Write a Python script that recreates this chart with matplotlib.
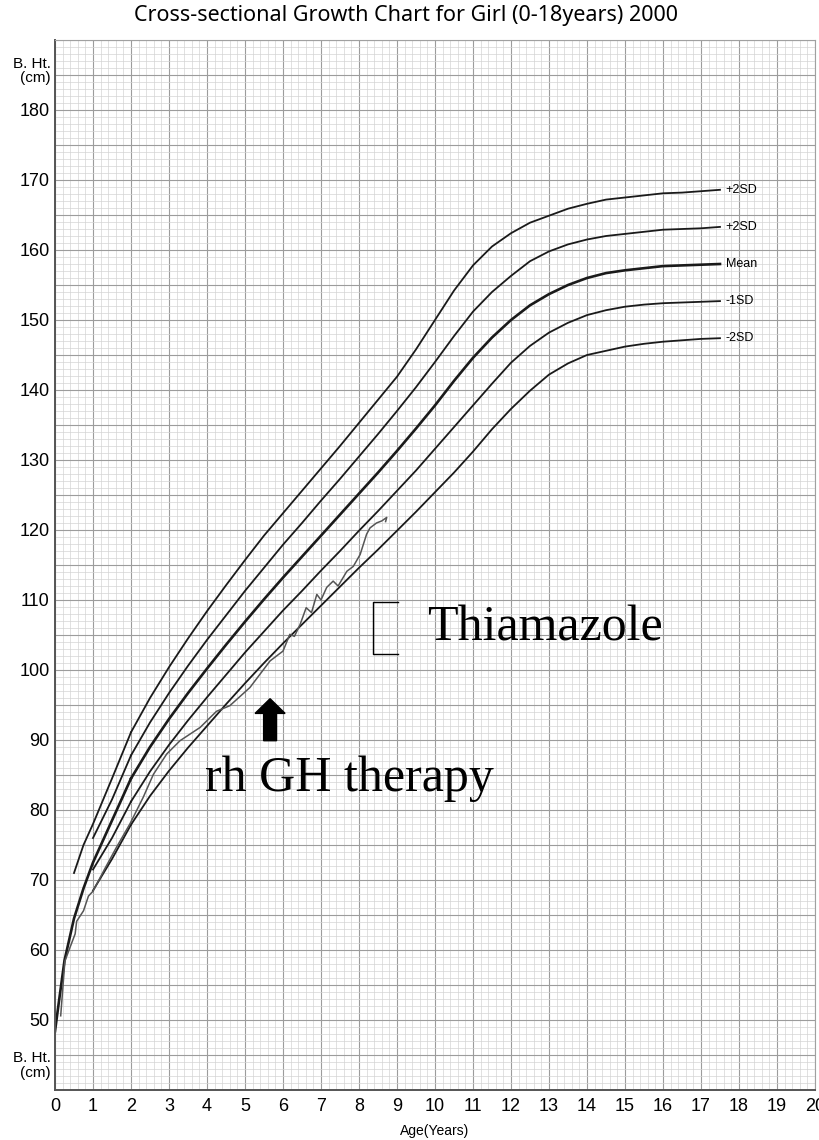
import matplotlib.pyplot as plt
from matplotlib.ticker import MultipleLocator
import numpy as np

# standard curves (age in years, height in cm)
ages = [2, 2.5, 3, 3.5, 4, 4.5, 5, 5.5, 6, 6.5, 7, 7.5, 8, 8.5, 9, 9.5, 10, 10.5,
        11, 11.5, 12, 12.5, 13, 13.5, 14, 14.5, 15, 15.5, 16, 16.5, 17, 17.5]
p2sd = [91.1, 96.0, 100.4, 104.5, 108.4, 112.1, 115.7, 119.2, 122.4, 125.6, 128.8, 132.0,
        135.3, 138.6, 141.9, 145.8, 150.0, 154.2, 157.8, 160.5, 162.4, 163.9, 164.9, 165.9,
        166.6, 167.2, 167.5, 167.8, 168.1, 168.2, 168.4, 168.6]
p1sd = [87.8, 92.5, 96.7, 100.6, 104.3, 107.8, 111.3, 114.6, 117.9, 121.0, 124.2, 127.3,
        130.5, 133.7, 137.0, 140.4, 144.0, 147.7, 151.2, 154.0, 156.3, 158.4, 159.8, 160.8,
        161.5, 162.0, 162.3, 162.6, 162.9, 163.0, 163.1, 163.3]
mean = [84.5, 89.0, 93.0, 96.7, 100.2, 103.6, 106.9, 110.1, 113.2, 116.2, 119.2, 122.2,
        125.2, 128.2, 131.3, 134.5, 137.8, 141.3, 144.6, 147.5, 150.0, 152.1, 153.7, 155.0,
        156.0, 156.7, 157.1, 157.4, 157.7, 157.8, 157.9, 158.0]
m1sd = [81.2, 85.5, 89.3, 92.8, 96.1, 99.3, 102.5, 105.5, 108.5, 111.3, 114.2, 117.0,
        119.9, 122.7, 125.6, 128.5, 131.6, 134.7, 137.8, 140.9, 143.9, 146.3, 148.2, 149.6,
        150.7, 151.4, 151.9, 152.2, 152.4, 152.5, 152.6, 152.7]
m2sd = [77.9, 82.0, 85.6, 88.9, 92.0, 95.1, 98.1, 101.0, 103.8, 106.5, 109.2, 111.9,
        114.6, 117.2, 119.9, 122.6, 125.4, 128.2, 131.2, 134.4, 137.3, 139.9, 142.2, 143.8,
        145.0, 145.6, 146.2, 146.6, 146.9, 147.1, 147.3, 147.4]
sd_labels = ["+2SD", "+2SD", "Mean", "-1SD", "-2SD"]

# infant part (0-2 years)
inf_ages = [0, 0.1, 0.25, 0.5, 0.75, 1, 1.25, 1.5, 2]
inf_mean = [48.4, 52.5, 58.5, 64.5, 68.8, 72.5, 75.5, 78.5, 84.5]
inf_p2_ages = [0.5, 0.75, 1, 1.5, 2]
inf_p2 = [71.0, 75.0, 78.0, 84.5, 91.1]
inf_p1_ages = [1, 1.5, 2]
inf_p1 = [76.0, 81.5, 87.8]
inf_m1_ages = [1, 1.5, 2]
inf_m1 = [71.5, 76.0, 81.2]
inf_m2_ages = [1, 1.5, 2]
inf_m2 = [68.5, 73.0, 77.9]

# patient
pt_age = [0.15, 0.26, 0.39, 0.53, 0.57, 0.75, 0.88, 1.0, 1.3, 1.6, 1.97, 2.32, 2.59, 2.94,
          3.29, 3.82, 4.25, 4.6, 5.13, 5.66, 6.0, 6.18, 6.3, 6.45, 6.61, 6.75, 6.89, 7.0,
          7.15, 7.32, 7.45, 7.68, 7.85, 8.03, 8.2, 8.29, 8.46, 8.6, 8.73, 8.7]
pt_ht = [50.6, 58.4, 60.3, 62.3, 64.1, 65.6, 67.7, 68.4, 71.5, 74.5, 78.0, 81.8, 85.1, 88.0,
         89.9, 91.8, 94.1, 94.9, 97.5, 101.3, 102.7, 105.1, 104.8, 106.5, 108.9, 108.2, 110.8,
         110.0, 111.8, 112.7, 112.0, 114.1, 114.8, 116.5, 119.4, 120.3, 121.0, 121.3, 121.8, 121.2]

fig = plt.figure(figsize=(8.19, 11.4), dpi=100)
ax = fig.add_axes([55 / 819, 50 / 1140, 760 / 819, 1050 / 1140])
ax.set_xlim(0, 20)
ax.set_ylim(40, 190)

ax.xaxis.set_major_locator(MultipleLocator(1))
ax.xaxis.set_minor_locator(MultipleLocator(0.2))
ax.set_yticks(np.arange(40, 191, 5))
ax.yaxis.set_minor_locator(MultipleLocator(1))
ax.set_yticklabels([str(v) if (v % 10 == 0 and 50 <= v <= 180) else '' for v in np.arange(40, 191, 5)])
ax.grid(which='minor', color='#d4d4d4', lw=0.5)
ax.grid(which='major', color='#9c9c9c', lw=0.8)
ax.set_axisbelow(True)
ax.tick_params(which='both', length=0)

narrow = ['Liberation Sans', 'DejaVu Sans']
for lab in ax.get_xticklabels() + ax.get_yticklabels():
    lab.set_family(narrow)
    lab.set_fontsize(13)
ax.tick_params(axis='x', pad=6)
ax.tick_params(axis='y', pad=4)

for s in ['top', 'right']:
    ax.spines[s].set_color('#a0a0a0')
    ax.spines[s].set_linewidth(0.8)
for s in ['left', 'bottom']:
    ax.spines[s].set_color('#555555')
    ax.spines[s].set_linewidth(1.4)

curves = [p2sd, p1sd, mean, m1sd, m2sd]
widths = [1.3, 1.3, 1.9, 1.3, 1.3]
for c, w, lab in zip(curves, widths, sd_labels):
    ax.plot(ages, c, color='#1a1a1a', lw=w)
    ax.text(17.65, c[-1], lab, fontsize=9, family=narrow, va='center', ha='left')

ax.plot(inf_ages, inf_mean, color='#1a1a1a', lw=1.9)
ax.plot(inf_p2_ages, inf_p2, color='#1a1a1a', lw=1.3)
ax.plot(inf_p1_ages, inf_p1, color='#1a1a1a', lw=1.3)
ax.plot(inf_m1_ages, inf_m1, color='#1a1a1a', lw=1.3)
ax.plot(inf_m2_ages, inf_m2, color='#1a1a1a', lw=1.3)

ax.plot(pt_age, pt_ht, color='#555555', lw=1.1)

# annotations
ax.plot([9.03, 8.37, 8.37, 9.03], [109.7, 109.7, 102.3, 102.3], color='black', lw=1.0)
ax.text(9.8, 106, 'Thiamazole', family='Liberation Serif', fontsize=36, va='center', ha='left')
ax.text(3.95, 84.5, 'rh GH therapy', family='Liberation Serif', fontsize=36, va='center', ha='left')
ax.arrow(5.66, 89.9, 0, 3.9, width=0.34, head_width=0.79, head_length=2.1,
         color='black', length_includes_head=False)

ax.text(-0.12, 185.5, 'B. Ht.\n(cm)', family=narrow, fontsize=11, ha='right', va='center',
        linespacing=1.0)
ax.text(-0.12, 43.5, 'B. Ht.\n(cm)', family=narrow, fontsize=11, ha='right', va='center',
        linespacing=1.0)
ax.set_xlabel('Age(Years)', family=narrow, fontsize=10, labelpad=6)
fig.text(406 / 819, 1 - 16 / 1140, 'Cross-sectional Growth Chart for Girl (0-18years) 2000',
         family='Noto Sans', fontsize=15.5, ha='center', va='center')

fig.savefig('out.png', dpi=100)
